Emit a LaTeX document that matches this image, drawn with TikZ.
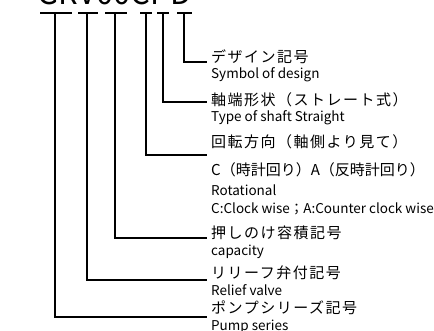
\documentclass[tikz,border=0pt]{standalone}
\usepackage{fontspec}
\setmainfont{Noto Sans CJK JP}
\newfontfamily\jpfont{Noto Sans CJK JP}[LetterSpace=10]
\newfontfamily\jpfonttight{Noto Sans CJK JP}
\begin{document}
\begin{tikzpicture}[x=1pt,y=-1pt,
  conn/.style={line width=2pt},
  jp/.style={anchor=west, inner sep=0pt, font=\jpfont\fontsize{15}{15}\selectfont},
  jptight/.style={anchor=west, inner sep=0pt, font=\jpfonttight\fontsize{15}{15}\selectfont},
  en/.style={anchor=west, inner sep=0pt, font=\fontsize{13.5}{13.5}\selectfont}]
\useasboundingbox (0,0) rectangle (434,331);
% model code (cut off at top)
\node[anchor=base west, inner sep=0pt, font=\fontsize{31}{31}\selectfont] (code) at (37,5) {GRV00CPD};
% T tops
\coordinate (t1) at (55,13);
\coordinate (t2) at (87,13);
\coordinate (t3) at (115,13);
\coordinate (t4) at (146,13);
\coordinate (t5) at (163,13);
\coordinate (t6) at (184,13);
% line ends
\coordinate (e1) at (207,317);
\coordinate (e2) at (207,280);
\coordinate (e3) at (207,238);
\coordinate (e4) at (207,155);
\coordinate (e5) at (207,102);
\coordinate (e6) at (207,62);
% bars
\draw[conn] ([xshift=-15pt]t1) -- ([xshift=17pt]t1);
\draw[conn] ([xshift=-9pt]t2) -- ([xshift=11pt]t2);
\draw[conn] ([xshift=-10pt]t3) -- ([xshift=12pt]t3);
\draw[conn] ([xshift=-6pt]t4) -- ([xshift=6pt]t4);
\draw[conn] ([xshift=-6pt]t5) -- ([xshift=6pt]t5);
\draw[conn] ([xshift=-7pt]t6) -- ([xshift=8pt]t6);
% connectors
\draw[conn] (t1) |- (e1);
\draw[conn] (t2) |- (e2);
\draw[conn] (t3) |- (e3);
\draw[conn] (t4) |- (e4);
\draw[conn] (t5) |- (e5);
\draw[conn] (t6) |- (e6);
% labels
\node[jp] (j6) at (211,57) {デザイン記号};
\node[en] (n6) at (211,75) {Symbol of design};
\node[jp] (j5) at (211,100) {軸端形状（ストレート式）};
\node[en] (n5) at (211,118) {Type of shaft Straight};
\node[jp] (j4) at (211,142) {回転方向（軸側より見て）};
\node[jptight] (j4b) at (211,170) {C（時計回り）A（反時計回り）};
\node[en] (n4) at (211,190) {Rotational};
\node[en] (n4b) at (211,209) {C:Clock wise；A:Counter clock wise};
\node[jp] (j3) at (211,233) {押しのけ容積記号};
\node[en] (n3) at (211,252) {capacity};
\node[jp] (j2) at (211,273) {リリーフ弁付記号};
\node[en] (n2) at (211,290) {Relief valve};
\node[jp] (j1) at (211,308) {ポンプシリーズ記号};
\node[en] (n1) at (211,327) {Pump series};
\end{tikzpicture}
\end{document}
